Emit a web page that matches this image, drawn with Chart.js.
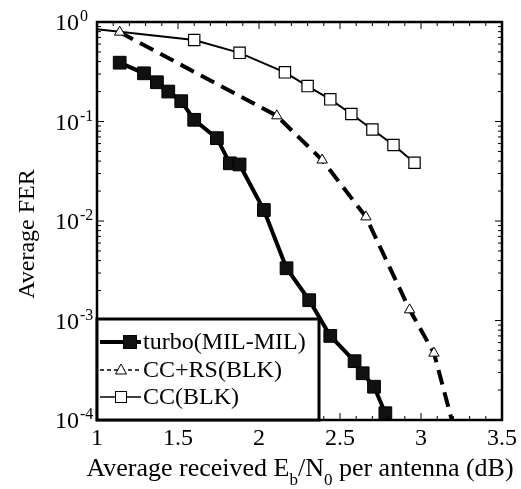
<!DOCTYPE html>
<html>
<head>
<meta charset="utf-8">
<script src="https://cdn.jsdelivr.net/npm/chart.js@4/dist/chart.umd.min.js"></script>
<style>
html, body { margin: 0; padding: 0; background: #fff; }
</style>
</head>
<body>
<canvas id="myChart" width="521" height="489"></canvas>
<script>
// Data (x in dB, y = average FER)
var turboX = [1.14, 1.29, 1.37, 1.44, 1.52, 1.60, 1.74, 1.82, 1.88, 2.03, 2.17, 2.31, 2.44, 2.59, 2.64, 2.71, 2.78];
var turboY = [0.39, 0.305, 0.248, 0.20, 0.16, 0.104, 0.068, 0.038, 0.037, 0.0129, 0.00335, 0.0016, 0.0007, 0.00039, 0.000295, 0.000216, 0.000117];

var ccrsX = [1.14, 2.11, 2.39, 2.66, 2.93, 3.08, 3.19];
var ccrsY = [0.79, 0.114, 0.041, 0.011, 0.00128, 0.00047, 0.0001];

var ccX = [1.0, 1.60, 1.88, 2.16, 2.30, 2.44, 2.57, 2.70, 2.83, 2.96];
var ccY = [0.845, 0.66, 0.49, 0.312, 0.227, 0.167, 0.119, 0.083, 0.058, 0.0385];

var seriesNames = ["turbo(MIL-MIL)", "CC+RS(BLK)", "CC(BLK)"];
var xTicks = [1, 1.5, 2, 2.5, 3, 3.5];
var yTicks = [1, 0.1, 0.01, 0.001, 0.0001];

var SERIF = "'Liberation Serif', 'Times New Roman', serif";

function toPoints(xs, ys) {
  return xs.map(function (x, i) { return { x: x, y: ys[i] }; });
}

// frame, inward ticks, y labels, titles and legend
var framePlugin = {
  id: "frame",
  afterDatasetsDraw: function (chart) {
    var ctx = chart.ctx, a = chart.chartArea;
    var xs = chart.scales.x, ys = chart.scales.y;
    ctx.save();
    ctx.strokeStyle = "#000";
    ctx.fillStyle = "#000";

    function seg(x1, y1, x2, y2) {
      ctx.beginPath(); ctx.moveTo(x1, y1); ctx.lineTo(x2, y2); ctx.stroke();
    }

    // x ticks (top and bottom)
    ctx.lineWidth = 1;
    for (var v = 10; v <= 35; v++) {
      var px = xs.getPixelForValue(v / 10);
      var len = (v % 5 === 0) ? 7 : 4;
      seg(px, a.bottom, px, a.bottom - len);
      seg(px, a.top, px, a.top + len);
    }
    // y ticks (left and right)
    for (var d = -4; d <= 0; d++) {
      for (var m = 1; m <= 9; m++) {
        if (d === 0 && m > 1) break;
        var py = ys.getPixelForValue(m * Math.pow(10, d));
        var l = (m === 1) ? 7 : 4;
        seg(a.left, py, a.left + l, py);
        seg(a.right, py, a.right - l, py);
      }
    }

    // box
    ctx.lineWidth = 2.5;
    ctx.strokeRect(a.left, a.top, a.right - a.left, a.bottom - a.top);

    // y tick labels 10^n
    yTicks.forEach(function (t) {
      var py = ys.getPixelForValue(t);
      var e = Math.round(Math.log10(t));
      ctx.font = "24px " + SERIF;
      ctx.textAlign = "right";
      ctx.textBaseline = "alphabetic";
      ctx.fillText("10", 79, py + 8);
      ctx.font = "16px " + SERIF;
      ctx.textAlign = "left";
      ctx.fillText(String(e), 80, py - 1);
    });

    // y title
    ctx.save();
    ctx.translate(28, 234);
    ctx.rotate(-Math.PI / 2);
    ctx.font = "24px " + SERIF;
    ctx.textAlign = "center";
    ctx.textBaseline = "middle";
    ctx.fillText("Average FER", 0, 0);
    ctx.restore();

    // x title with subscripts
    var parts = [
      ["Average received E", 26, 0],
      ["b", 17, 9],
      ["/N", 26, 0],
      ["0", 17, 9],
      [" per antenna (dB)", 26, 0]
    ];
    var total = 0;
    parts.forEach(function (p) { ctx.font = p[1] + "px " + SERIF; total += ctx.measureText(p[0]).width; });
    var cx = 300 - total / 2;
    ctx.textAlign = "left";
    ctx.textBaseline = "alphabetic";
    parts.forEach(function (p) {
      ctx.font = p[1] + "px " + SERIF;
      ctx.fillText(p[0], cx, 476 + p[2]);
      cx += ctx.measureText(p[0]).width;
    });

    // legend box
    var lx = a.left, ly = 319, lw = 222, lh = a.bottom - 319;
    ctx.fillStyle = "#fff";
    ctx.fillRect(lx, ly, lw, lh);
    ctx.lineWidth = 3;
    ctx.strokeRect(lx, ly, lw, lh);
    var rows = [342, 370, 397];
    chart.data.datasets.forEach(function (ds, i) {
      var y = rows[i];
      ctx.strokeStyle = "#000";
      ctx.lineWidth = i === 0 ? 4 : 1.5;
      ctx.setLineDash(ds.borderDash ? [4, 3] : []);
      seg(lx + 3, y, lx + 44, y);
      ctx.setLineDash([]);
      var mx = lx + (i === 0 ? 33 : 24);
      ctx.lineWidth = 1;
      if (ds.pointStyle === "rect") {
        var s = i === 0 ? 13 : 11;
        ctx.fillStyle = ds.pointBackgroundColor;
        ctx.fillRect(mx - s / 2, y - s / 2, s, s);
        ctx.strokeRect(mx - s / 2, y - s / 2, s, s);
      } else {
        ctx.fillStyle = "#fff";
        ctx.beginPath();
        ctx.moveTo(mx, y - 6);
        ctx.lineTo(mx + 5.5, y + 4);
        ctx.lineTo(mx - 5.5, y + 4);
        ctx.closePath();
        ctx.fill(); ctx.stroke();
      }
      ctx.fillStyle = "#000";
      ctx.font = "24px " + SERIF;
      ctx.textAlign = "left";
      ctx.textBaseline = "middle";
      ctx.fillText(ds.label, lx + 46, y + 1);
    });
    ctx.restore();
  }
};

var ctx = document.getElementById("myChart").getContext("2d");

var myChart = new Chart(ctx, {
  type: "line",
  data: {
    datasets: [
      {
        label: seriesNames[0],
        data: toPoints(turboX, turboY),
        borderColor: "#000",
        backgroundColor: "#000",
        borderWidth: 4,
        pointStyle: "rect",
        pointRadius: 9,
        pointBackgroundColor: "#111",
        pointBorderColor: "#000",
        pointBorderWidth: 1
      },
      {
        label: seriesNames[1],
        data: toPoints(ccrsX, ccrsY),
        borderColor: "#000",
        borderWidth: 4,
        borderDash: [15, 8],
        pointStyle: "triangle",
        pointRadius: ccrsX.map(function (x, i) { return i === ccrsX.length - 1 ? 0 : 6; }),
        pointBackgroundColor: "#fff",
        pointBorderColor: "#000",
        pointBorderWidth: 1
      },
      {
        label: seriesNames[2],
        data: toPoints(ccX, ccY),
        borderColor: "#000",
        borderWidth: 2,
        pointStyle: "rect",
        pointRadius: ccX.map(function (x, i) { return i === 0 ? 0 : 8; }),
        pointBackgroundColor: "#fff",
        pointBorderColor: "#000",
        pointBorderWidth: 1.2
      }
    ]
  },
  options: {
    responsive: false,
    animation: false,
    layout: { padding: { left: 0, right: 19, top: 22, bottom: 0 } },
    plugins: { legend: { display: false }, tooltip: { enabled: false } },
    scales: {
      x: {
        type: "linear",
        min: 1,
        max: 3.5,
        grid: { display: false },
        border: { display: false },
        afterBuildTicks: function (s) { s.ticks = xTicks.map(function (v) { return { value: v }; }); },
        afterFit: function (s) { s.height = 69; },
        ticks: {
          font: { family: SERIF, size: 24 },
          color: "#000",
          padding: -4,
          maxRotation: 0,
          autoSkip: false,
          callback: function (v) { return String(v); }
        }
      },
      y: {
        type: "logarithmic",
        min: 0.0001,
        max: 1,
        grid: { display: false },
        border: { display: false },
        afterBuildTicks: function (s) { s.ticks = yTicks.map(function (v) { return { value: v }; }); },
        afterFit: function (s) { s.width = 97; },
        ticks: { display: false }
      }
    }
  },
  plugins: [framePlugin]
});
</script>
</body>
</html>
